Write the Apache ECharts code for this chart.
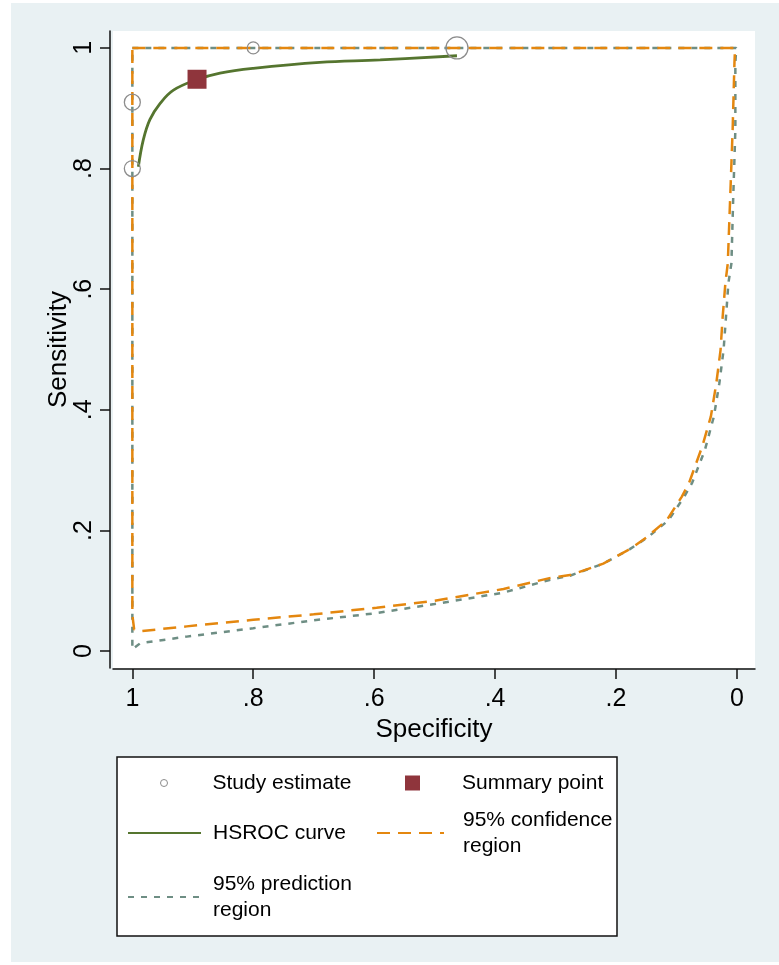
<!DOCTYPE html>
<html>
<head>
<meta charset="utf-8">
<script src="https://cdn.jsdelivr.net/npm/echarts@6/dist/echarts.min.js"></script>
<style>
  html, body { margin: 0; padding: 0; background: #fff; }
  #chart { width: 779px; height: 965px; }
</style>
</head>
<body>
<div id="chart"></div>
<script>
// study estimates (specificity, sensitivity)
const studySpec = [1.000, 1.000, 0.800, 0.463];
const studySens = [0.910, 0.800, 1.000, 1.000];

// summary operating point
const summarySpec = [0.893];
const summarySens = [0.948];

// HSROC curve
const hsrocSpec = [0.990, 0.982, 0.971, 0.954, 0.932, 0.894, 0.855, 0.800, 0.690, 0.590, 0.463];
const hsrocSens = [0.803, 0.847, 0.881, 0.908, 0.930, 0.947, 0.958, 0.966, 0.976, 0.980, 0.987];

// 95% confidence region
const confSpec = [1.000, 0.003, 0.004, 0.007, 0.011, 0.015, 0.019, 0.0235, 0.027, 0.034, 0.043, 0.057, 0.079, 0.091, 0.116, 0.149, 0.177, 0.221, 0.276, 0.310, 0.386, 0.500, 0.596, 0.700, 0.800, 0.910, 0.987, 0.997, 1.000, 1.000];
const confSens = [1.000, 1.000, 0.975, 0.864, 0.753, 0.643, 0.610, 0.554, 0.499, 0.444, 0.389, 0.340, 0.279, 0.256, 0.217, 0.189, 0.169, 0.145, 0.126, 0.121, 0.103, 0.0835, 0.072, 0.061, 0.052, 0.041, 0.033, 0.036, 0.060, 1.000];

// 95% prediction region
const predSpec = [1.000, 0.001, 0.0025, 0.0025, 0.006, 0.009, 0.014, 0.018, 0.022, 0.029, 0.038, 0.053, 0.074, 0.087, 0.113, 0.147, 0.177, 0.221, 0.276, 0.310, 0.386, 0.500, 0.596, 0.700, 0.800, 0.910, 0.987, 1.000, 1.000];
const predSens = [1.000, 1.000, 0.975, 0.864, 0.753, 0.643, 0.610, 0.554, 0.499, 0.444, 0.389, 0.333, 0.279, 0.256, 0.217, 0.189, 0.169, 0.145, 0.125, 0.118, 0.097, 0.078, 0.063, 0.051, 0.038, 0.024, 0.013, 0.003, 1.000];

// axis ticks
const xTicks = [0, 0.2, 0.4, 0.6, 0.8, 1];
const yTicks = [0, 0.2, 0.4, 0.6, 0.8, 1];

const seriesNames = ['Study estimate', 'Summary point', 'HSROC curve', '95% confidence\nregion', '95% prediction\nregion'];

const pairs = (xs, ys) => xs.map((x, i) => [x, ys[i]]);
const tickText = v => (v === 0 || v === 1) ? String(v) : String(v).replace('0.', '.');

const FONT = 'Liberation Sans';
const circleSizes = [16, 16, 12, 22];
const noSymbol = { itemStyle: { color: 'rgba(0,0,0,0)', borderColor: 'rgba(0,0,0,0)', borderWidth: 0 } };

const chart = echarts.init(document.getElementById('chart'));

function legendBox(name, left, top, w, h, padLeft, extra) {
  return Object.assign({
    data: [name],
    left: left,
    top: top,
    orient: 'vertical',
    padding: 0,
    itemWidth: w,
    itemHeight: h,
    selectedMode: false,
    textStyle: {
      fontFamily: FONT, fontSize: 21, color: '#000', lineHeight: 26,
      padding: [0, 0, 0, padLeft]
    }
  }, extra || {});
}

chart.setOption({
  backgroundColor: '#fff',
  animation: false,
  graphic: [
    { type: 'rect', z: -10, shape: { x: 11, y: 3, width: 768, height: 959 }, style: { fill: '#e9f1f3' } },
    { type: 'rect', z: -5, shape: { x: 117, y: 757, width: 500, height: 179 }, style: { fill: '#fff', stroke: '#111', lineWidth: 1.5 } }
  ],
  grid: {
    left: 113, right: 24, top: 31, bottom: 297,
    show: true, backgroundColor: '#fff', borderWidth: 0
  },
  legend: [
    legendBox(seriesNames[0], 160, 770, 7, 7, 40, {
      icon: 'circle',
      itemStyle: { color: 'rgba(0,0,0,0)', borderColor: '#8c8c8c', borderWidth: 1 }
    }),
    legendBox(seriesNames[1], 405, 770, 15, 15, 37, {
      icon: 'rect',
      itemStyle: { color: '#8f353c', borderWidth: 0 }
    }),
    legendBox(seriesNames[2], 127, 820, 73, 2, 7, noSymbol),
    legendBox(seriesNames[3], 376, 807, 67, 2, 14, noSymbol),
    legendBox(seriesNames[4], 127, 871, 73, 2, 7, noSymbol)
  ],
  xAxis: {
    type: 'value',
    inverse: true,
    min: -0.030,
    max: 1.032,
    offset: 1,
    name: 'Specificity',
    nameLocation: 'middle',
    nameGap: 48,
    nameMoveOverlap: false,
    nameTextStyle: { fontFamily: FONT, fontSize: 26, color: '#000' },
    axisLine: { show: true, onZero: false, lineStyle: { color: '#111', width: 1.5 } },
    axisTick: { show: true, length: 10, customValues: xTicks, lineStyle: { color: '#111', width: 1.5 } },
    axisLabel: { customValues: xTicks, formatter: tickText, margin: 18, fontFamily: FONT, fontSize: 25, color: '#000' },
    splitLine: { show: false }
  },
  yAxis: {
    type: 'value',
    min: -0.028,
    max: 1.028,
    offset: 3,
    name: 'Sensitivity',
    nameLocation: 'middle',
    nameRotate: 90,
    nameGap: 38,
    nameMoveOverlap: false,
    nameTextStyle: { fontFamily: FONT, fontSize: 26, color: '#000' },
    axisLine: { show: true, onZero: false, lineStyle: { color: '#111', width: 1.5 } },
    axisTick: { show: true, length: 10, customValues: yTicks, lineStyle: { color: '#111', width: 1.5 } },
    axisLabel: { customValues: yTicks, formatter: tickText, rotate: 90, margin: 13, fontFamily: FONT, fontSize: 25, color: '#000' },
    splitLine: { show: false }
  },
  series: [
    {
      name: seriesNames[4],
      type: 'line',
      data: pairs(predSpec, predSens),
      showSymbol: false,
      symbol: 'none',
      z: 2,
      lineStyle: { color: '#6e8e84', width: 2.5, type: [6, 7] },
      itemStyle: { color: '#6e8e84' }
    },
    {
      name: seriesNames[3],
      type: 'line',
      data: pairs(confSpec, confSens),
      showSymbol: false,
      symbol: 'none',
      z: 3,
      lineStyle: { color: '#e4870f', width: 2.5, type: [13, 8] },
      itemStyle: { color: '#e4870f' }
    },
    {
      name: seriesNames[2],
      type: 'line',
      data: pairs(hsrocSpec, hsrocSens),
      smooth: 0.4,
      showSymbol: false,
      symbol: 'none',
      z: 4,
      lineStyle: { color: '#55752f', width: 2.8 },
      itemStyle: { color: '#55752f' }
    },
    {
      name: seriesNames[1],
      type: 'scatter',
      data: pairs(summarySpec, summarySens),
      symbol: 'rect',
      symbolSize: 19,
      z: 5,
      itemStyle: { color: '#8f353c', opacity: 1 }
    },
    {
      name: seriesNames[0],
      type: 'scatter',
      data: pairs(studySpec, studySens),
      symbol: 'circle',
      symbolSize: (v, p) => circleSizes[p.dataIndex],
      z: 6,
      itemStyle: { color: 'rgba(0,0,0,0)', borderColor: '#8c8c8c', borderWidth: 1.3, opacity: 1 }
    }
  ]
});
</script>
</body>
</html>
